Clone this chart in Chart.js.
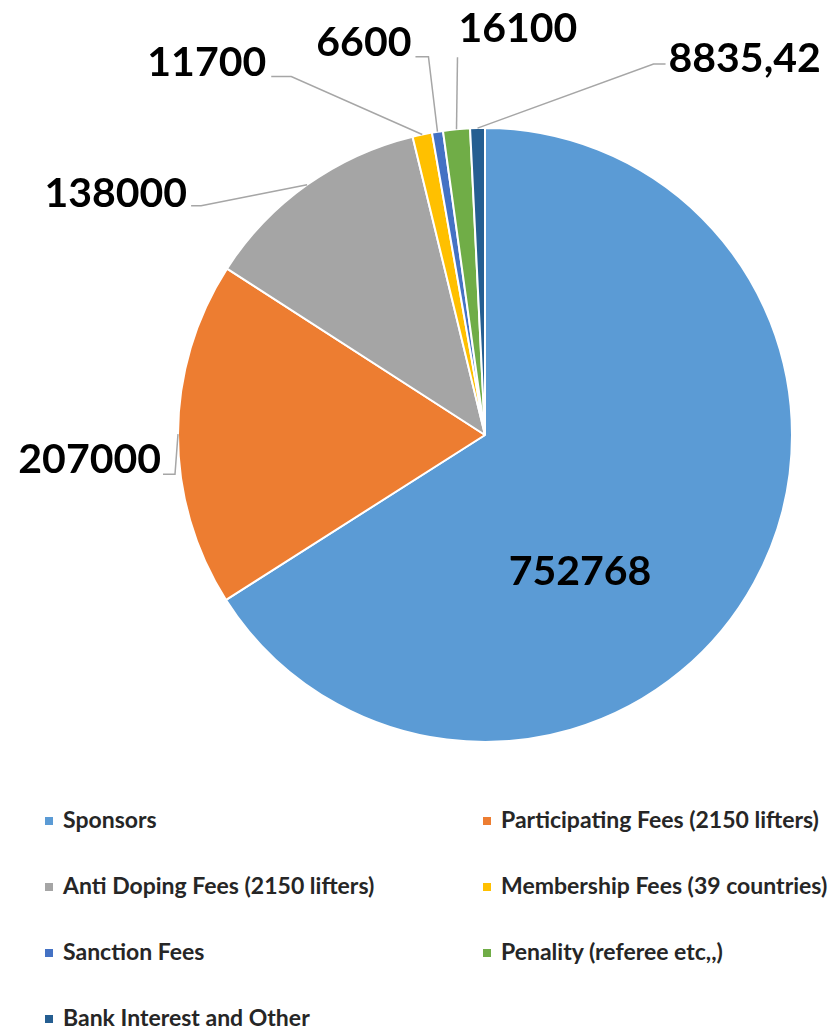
<!DOCTYPE html>
<html>
<head>
<meta charset="utf-8">
<script src="https://cdn.jsdelivr.net/npm/chart.js@4.4.0/dist/chart.umd.min.js"></script>
<style>
  body { margin: 0; background: #fff; font-family: Lato, sans-serif; }
  #wrap { position: absolute; left: 0; top: 0; width: 833px; height: 780px; }
  #legend { position: absolute; left: 0; top: 800px; width: 833px; }
  .item { position: absolute; font-weight: bold; font-size: 23px; color: #262626; white-space: nowrap; }
  .box { display: inline-block; width: 8px; height: 8px; margin-right: 10px; vertical-align: 3px; }
</style>
</head>
<body>
<div id="wrap"><canvas id="mycanvas"></canvas></div>
<div id="legend"></div>
<script>
var labels = ["Sponsors", "Participating Fees (2150 lifters)", "Anti Doping Fees (2150 lifters)",
  "Membership Fees (39 countries)", "Sanction Fees", "Penality (referee etc,,)", "Bank Interest and Other"];
var values = [752768, 207000, 138000, 11700, 6600, 16100, 8835.42];
var valueText = ["752768", "207000", "138000", "11700", "6600", "16100", "8835,42"];
var colors = ["#5B9BD5", "#ED7D31", "#A5A5A5", "#FFC000", "#4472C4", "#70AD47", "#255E91"];

// label placement: leader bends relative to the slice anchor, text side
var place = [
  { inside: true, dx: 95, dy: 137 },
  { pts: [[-3, 40], [-15, 40]], tx: -17, ty: 26, align: "right" },
  { pts: [[-106, 21], [-116, 21]], tx: -120, ty: 9, align: "right" },
  { pts: [[-131, -58], [-151, -58]], tx: -156, ty: -72, align: "right" },
  { pts: [[-9, -75], [-22, -75]], tx: -26, ty: -89, align: "right" },
  { pts: [[1, -72]], tx: 2, ty: -101, align: "left" },
  { pts: [[176, -64], [188, -64]], tx: 191, ty: -69, align: "left" }
];

var labelPlugin = {
  id: "sliceLabels",
  afterDatasetsDraw: function(chart) {
    var ctx = chart.ctx;
    var arcs = chart.getDatasetMeta(0).data;
    ctx.save();
    ctx.font = "bold 41px Lato";
    ctx.textBaseline = "middle";
    arcs.forEach(function(arc, i) {
      var p = arc.getProps(["x", "y", "startAngle", "endAngle", "outerRadius"]);
      var mid = (p.startAngle + p.endAngle) / 2;
      var L = place[i];
      ctx.fillStyle = "#000";
      if (L.inside) {
        ctx.textAlign = "center";
        ctx.fillText(valueText[i], p.x + L.dx, p.y + L.dy);
        return;
      }
      var ax = p.x + Math.cos(mid) * p.outerRadius;
      var ay = p.y + Math.sin(mid) * p.outerRadius;
      ctx.strokeStyle = "#A6A6A6";
      ctx.lineWidth = 1.5;
      ctx.beginPath();
      ctx.moveTo(ax, ay);
      L.pts.forEach(function(q) { ctx.lineTo(ax + q[0], ay + q[1]); });
      ctx.stroke();
      ctx.textAlign = L.align;
      ctx.fillText(valueText[i], ax + L.tx, ay + L.ty);
    });
    ctx.restore();
  }
};

var chart = new Chart(document.getElementById("mycanvas"), {
  type: "pie",
  data: {
    labels: labels,
    datasets: [{
      data: values,
      backgroundColor: colors,
      borderColor: "#fff",
      borderWidth: 2
    }]
  },
  options: {
    responsive: true,
    maintainAspectRatio: false,
    animation: false,
    layout: { padding: { left: 177, right: 40, top: 126, bottom: 36 } },
    plugins: { legend: { display: false }, tooltip: { enabled: false } }
  },
  plugins: [labelPlugin]
});

// legend in two columns
var legend = document.getElementById("legend");
labels.forEach(function(name, i) {
  var d = document.createElement("div");
  d.className = "item";
  d.style.left = (i % 2 === 0 ? 45 : 483) + "px";
  d.style.top = (Math.floor(i / 2) * 66 + 5) + "px";
  d.innerHTML = '<span class="box" style="background:' + colors[i] + '"></span>' + name;
  legend.appendChild(d);
});
</script>
</body>
</html>
